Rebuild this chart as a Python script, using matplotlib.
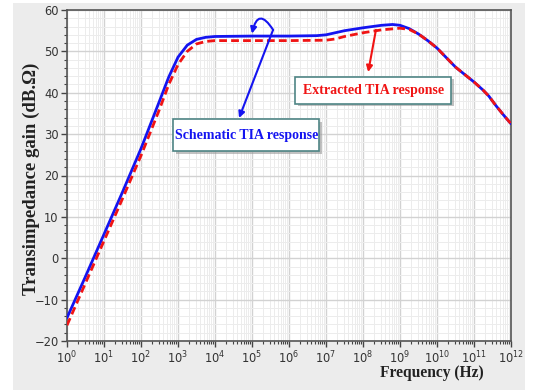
import matplotlib
matplotlib.use("Agg")
import matplotlib.pyplot as plt
from matplotlib.patches import Rectangle
from matplotlib.ticker import LogLocator, MultipleLocator, NullFormatter
import numpy as np

# ---------------------------------------------------------------------------
# Data (log10 of frequency in Hz, gain in dB.Ohm)
# ---------------------------------------------------------------------------
schem_logf = [0.0, 0.5, 1.0, 1.5, 2.0, 2.5, 2.75, 3.0, 3.25, 3.5, 3.75, 4.0,
              5.0, 6.0, 6.75, 7.0, 7.5, 8.0, 8.5, 8.8, 9.0, 9.25, 9.5, 9.75,
              10.0, 10.25, 10.5, 10.75, 11.0, 11.25, 11.4, 11.6, 11.8, 12.0]
schem_gain = [-14.4, -4.4, 5.8, 16.0, 26.5, 38.0, 43.8, 48.6, 51.5, 52.9, 53.4, 53.6,
              53.7, 53.7, 53.8, 54.0, 55.0, 55.7, 56.3, 56.5, 56.3, 55.5, 54.2, 52.6,
              50.8, 48.5, 46.2, 44.4, 42.6, 40.6, 39.2, 36.8, 34.6, 32.5]

extr_logf = [0.0, 0.5, 1.0, 1.5, 2.0, 2.5, 2.75, 3.0, 3.25, 3.5, 3.75, 4.0,
             5.0, 6.0, 7.0, 7.25, 7.5, 8.0, 8.5, 9.0, 9.25, 9.5, 9.75,
             10.0, 10.25, 10.5, 10.75, 11.0, 11.25, 11.4, 11.6, 11.8, 12.0]
extr_gain = [-16.2, -6.0, 4.2, 14.4, 24.8, 36.0, 42.0, 46.8, 50.0, 51.8, 52.4, 52.6,
             52.6, 52.6, 52.7, 53.0, 53.6, 54.5, 55.2, 55.6, 55.3, 54.2, 52.6,
             50.8, 48.5, 46.2, 44.4, 42.6, 40.6, 39.2, 36.8, 34.6, 32.5]

schem_freq = [10 ** v for v in schem_logf]
extr_freq = [10 ** v for v in extr_logf]

# ---------------------------------------------------------------------------
# Figure
# ---------------------------------------------------------------------------
SERIF = ["Liberation Serif", "DejaVu Serif"]
BLUE = "#1414f0"
RED = "#f01414"
BOX_EDGE = "#4f8585"

fig = plt.figure(figsize=(5.37, 3.90), dpi=100)
fig.patch.set_facecolor("white")
fig.add_artist(Rectangle((13 / 537, 0), 512 / 537, 387 / 390,
                         transform=fig.transFigure, facecolor="#ececec",
                         edgecolor="none", zorder=-10))

ax = fig.add_axes([67 / 537, 49 / 390, 444 / 537, 331 / 390])
ax.set_facecolor("white")
ax.set_xscale("log")
ax.set_xlim(1, 1e12)
ax.set_ylim(-20, 60)

ax.plot(schem_freq, schem_gain, color=BLUE, lw=2.0, solid_capstyle="round", zorder=3)
ax.plot(extr_freq, extr_gain, color=RED, lw=2.0, ls=(0, (2.8, 1.5)), zorder=4)

# ticks and grid
ax.xaxis.set_major_locator(LogLocator(base=10, numticks=20))
ax.xaxis.set_minor_locator(LogLocator(base=10, subs=np.arange(2, 10), numticks=200))
ax.xaxis.set_minor_formatter(NullFormatter())
ax.yaxis.set_major_locator(MultipleLocator(10))
ax.yaxis.set_minor_locator(MultipleLocator(2))
ax.grid(which="major", color="#d2d2d2", lw=1.0, zorder=0)
ax.grid(which="minor", color="#ececec", lw=0.7, zorder=0)
ax.set_axisbelow(True)
ax.tick_params(which="major", direction="out", length=4, width=1, color="#444444",
               labelsize=8.3, labelcolor="#333333", pad=2)
ax.tick_params(which="minor", direction="out", length=2.5, width=0.8, color="#444444")
for s in ax.spines.values():
    s.set_color("#555555")
    s.set_linewidth(1.2)

ax.set_ylabel("Transimpedance gain (dB.\u03a9)", family=SERIF, fontweight="bold",
              fontsize=13.5, color="#222222")
ax.yaxis.set_label_coords(-0.06, 0.49)
ax.set_xlabel("Frequency (Hz)", family=SERIF, fontweight="bold", fontsize=11.2,
              color="#222222")
ax.xaxis.set_label_coords(0.822, -0.072)


def label_box(cx, cy, w, h, text, color):
    """Boxed label with a soft drop shadow, in axes-fraction coordinates."""
    dx, dy = 2.5 / 444, -2.5 / 331
    ax.add_patch(Rectangle((cx - w / 2 + dx, cy - h / 2 + dy), w, h, transform=ax.transAxes,
                           facecolor="#9a9a9a", edgecolor="none", alpha=0.6, zorder=5))
    ax.add_patch(Rectangle((cx - w / 2, cy - h / 2), w, h, transform=ax.transAxes,
                           facecolor="white", edgecolor=BOX_EDGE, lw=1.2, zorder=6))
    ax.text(cx, cy, text, transform=ax.transAxes, ha="center", va="center",
            family=SERIF, fontweight="bold", fontsize=10, color=color, zorder=7)


label_box(0.404, 0.622, 146 / 444, 32 / 331, "Schematic TIA response", BLUE)
label_box(0.690, 0.757, 156 / 444, 27 / 331, "Extracted TIA response", RED)

# arrows
ax.annotate("", xy=(10 ** 4.65, 33.9), xytext=(10 ** 5.57, 55.2),
            arrowprops=dict(arrowstyle="-|>", color=BLUE, lw=1.5,
                            mutation_scale=9, shrinkA=0, shrinkB=0), zorder=8)
ax.annotate("", xy=(10 ** 5.0, 54.3), xytext=(10 ** 5.57, 55.2),
            arrowprops=dict(arrowstyle="-|>", color=BLUE, lw=1.5, mutation_scale=9,
                            shrinkA=0, shrinkB=0,
                            connectionstyle="arc3,rad=1.2"), zorder=8)
ax.annotate("", xy=(10 ** 8.14, 45.0), xytext=(10 ** 8.35, 55.2),
            arrowprops=dict(arrowstyle="-|>", color=RED, lw=1.5,
                            mutation_scale=9, shrinkA=0, shrinkB=0), zorder=8)

plt.savefig("out.png", dpi=100, facecolor=fig.get_facecolor())
